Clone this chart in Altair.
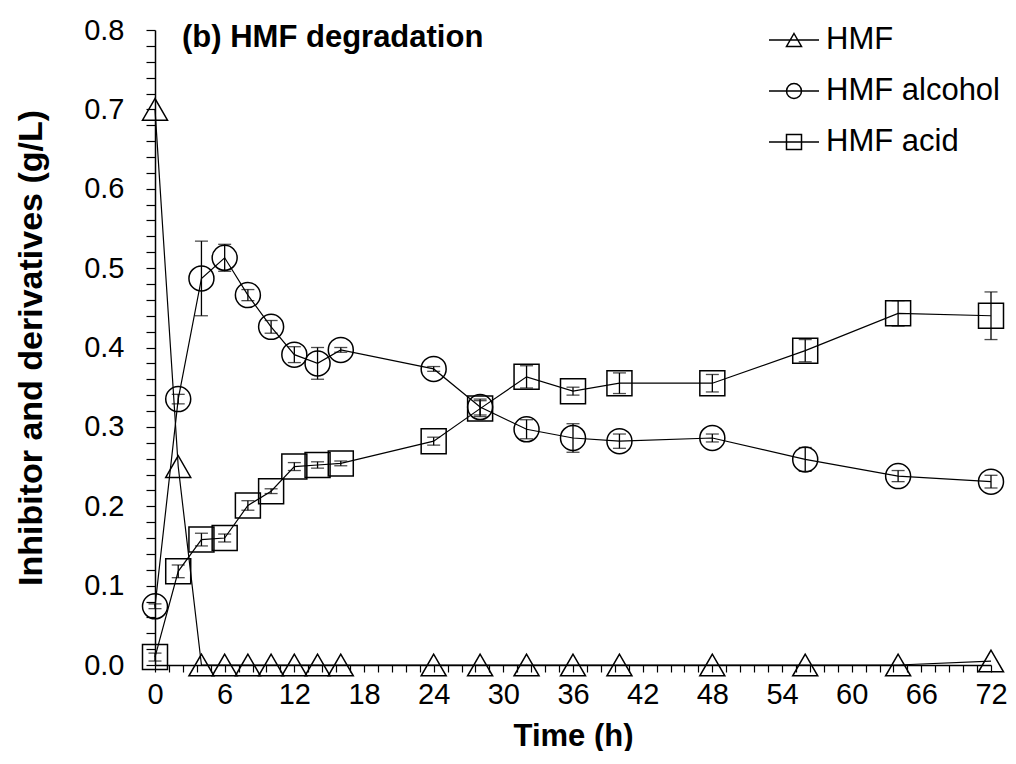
import altair as alt
import pandas as pd

# ---- data ----
times = [0, 2, 4, 6, 8, 10, 12, 14, 16, 24, 28, 32, 36, 40, 48, 56, 64, 72]
hmf = [0.70, 0.25, 0, 0, 0, 0, 0, 0, 0, 0, 0, 0, 0, 0, 0, 0, 0, 0.005]
hmf_err = [0] * 18
alcohol = [0.074, 0.335, 0.487, 0.513, 0.466, 0.426, 0.391, 0.380, 0.397,
           0.373, 0.325, 0.297, 0.286, 0.282, 0.286, 0.259, 0.238, 0.231]
alcohol_err = [0.003, 0.006, 0.047, 0.017, 0.007, 0.008, 0.010, 0.020, 0.003,
               0.003, 0.010, 0.012, 0.018, 0.009, 0.005, 0.015, 0.007, 0.008]
acid = [0.010, 0.118, 0.158, 0.160, 0.201, 0.219, 0.250, 0.252, 0.254,
        0.282, 0.323, 0.363, 0.345, 0.355, 0.355, 0.396, 0.443, 0.440]
acid_err = [0.005, 0.008, 0.008, 0.005, 0.006, 0.003, 0.005, 0.004, 0.003,
            0.005, 0.010, 0.014, 0.005, 0.013, 0.011, 0.014, 0.016, 0.030]
series_names = ["HMF", "HMF alcohol", "HMF acid"]
title_text = ["(b) HMF degradation"]

rows = []
for name, vals, errs in zip(series_names, [hmf, alcohol, acid], [hmf_err, alcohol_err, acid_err]):
    for t, v, e in zip(times, vals, errs):
        rows.append({"series": name, "time": t, "value": v, "err": e, "lo": v - e, "hi": v + e})
df = pd.DataFrame(rows)

x_vals = [round(i * 1.2, 1) for i in range(61)]
y_vals = [round(i * 0.02, 2) for i in range(41)]

FONT = "Liberation Sans"
W, H = 836, 635
PAD_L = 147

x_axis = alt.Axis(
    values=x_vals,
    labelExpr="abs(datum.value/6 - round(datum.value/6)) < 0.001 ? format(datum.value, 'd') : ''",
    title="Time (h)", titleFont=FONT, titleFontSize=31, titleFontWeight="bold", titleColor="black",
    titleX=W / 2, titleY=71, titleBaseline="middle", titleAlign="center",
    labelFont=FONT, labelFontSize=29, labelColor="black", labelPadding=8,
    labelOverlap=False, labelFlush=False, labelBound=False,
    tickSize=7, tickColor="black", tickWidth=1.2,
    domainColor="black", domainWidth=1.5, grid=False,
)
y_axis = alt.Axis(
    values=y_vals,
    labelExpr="abs(datum.value*10 - round(datum.value*10)) < 0.001 ? format(datum.value, '.1f') : ''",
    title="Inhibitor and derivatives (g/L)", titleFont=FONT, titleFontSize=34, titleFontWeight="bold",
    titleColor="black", titleX=-124, titleY=H / 2, titleBaseline="middle", titleAlign="center",
    labelFont=FONT, labelFontSize=29, labelColor="black", labelPadding=22,
    labelOverlap=False, labelFlush=False, labelBound=False,
    tickSize=9, tickColor="black", tickWidth=1.2,
    domainColor="black", domainWidth=1.5, grid=False,
)

x_scale = alt.Scale(domain=[0, 72], nice=False, zero=False)
y_scale = alt.Scale(domain=[0, 0.8], nice=False)

x_enc = alt.X("time:Q", scale=x_scale, axis=x_axis)
y_enc = alt.Y("value:Q", scale=y_scale, axis=y_axis)

base = alt.Chart(df)

lines = base.mark_line(color="black", strokeWidth=1.2).encode(
    x=x_enc, y=y_enc, detail="series:N"
)

errbars = base.transform_filter("datum.err > 0").mark_errorbar(
    color="black", thickness=1.3, ticks={"size": 13, "thickness": 1.3}
).encode(
    x=x_enc,
    y=alt.Y("lo:Q", scale=y_scale, axis=y_axis),
    y2="hi:Q",
)

points = base.mark_point(filled=False, color="black", strokeWidth=1.5, size=625, opacity=1).encode(
    x=x_enc, y=y_enc,
    shape=alt.Shape("series:N",
                    scale=alt.Scale(domain=series_names, range=["triangle-up", "circle", "square"]),
                    legend=None),
)

# legend symbols: line through a small marker
tri_path = "M-1,0H1M0,-0.26L0.3,0.26L-0.3,0.26Z"
circ_path = "M-1,0H1M0.3,0A0.3,0.3,0,1,1,-0.3,0A0.3,0.3,0,1,1,0.3,0Z"
sq_path = "M-1,0H1M-0.3,-0.3H0.3V0.3H-0.3Z"

legend_layer = base.mark_point(filled=False, color="black", strokeWidth=1.5, size=2500,
                               opacity=1, clip=True).encode(
    x=alt.value(-3000), y=alt.value(-3000),
    shape=alt.Shape("series:N",
                    scale=alt.Scale(domain=series_names, range=[tri_path, circ_path, sq_path]),
                    legend=alt.Legend(title=None, orient="none", legendX=613, legendY=-16,
                                      symbolSize=2500, symbolStrokeWidth=1.5,
                                      symbolStrokeColor="black", labelFont=FONT,
                                      labelFontSize=31, labelColor="black", labelOffset=6,
                                      rowPadding=10, padding=0, labelLimit=400)),
)

title_layer = alt.Chart(pd.DataFrame({"t": title_text})).mark_text(
    align="left", baseline="middle", font=FONT, fontSize=31, fontWeight="bold", color="black"
).encode(x=alt.value(27), y=alt.value(8), text="t:N")

chart = alt.layer(lines, errbars, points, legend_layer, title_layer).resolve_scale(
    shape="independent"
).properties(
    width=W, height=H,
    autosize=alt.AutoSizeParams(type="none"),
    padding={"left": PAD_L, "top": 22, "right": 1000 - PAD_L - W, "bottom": 86},
    background="white",
).configure_view(stroke=None)

chart.save("out.html", embed_options={"renderer": "svg", "actions": False})
